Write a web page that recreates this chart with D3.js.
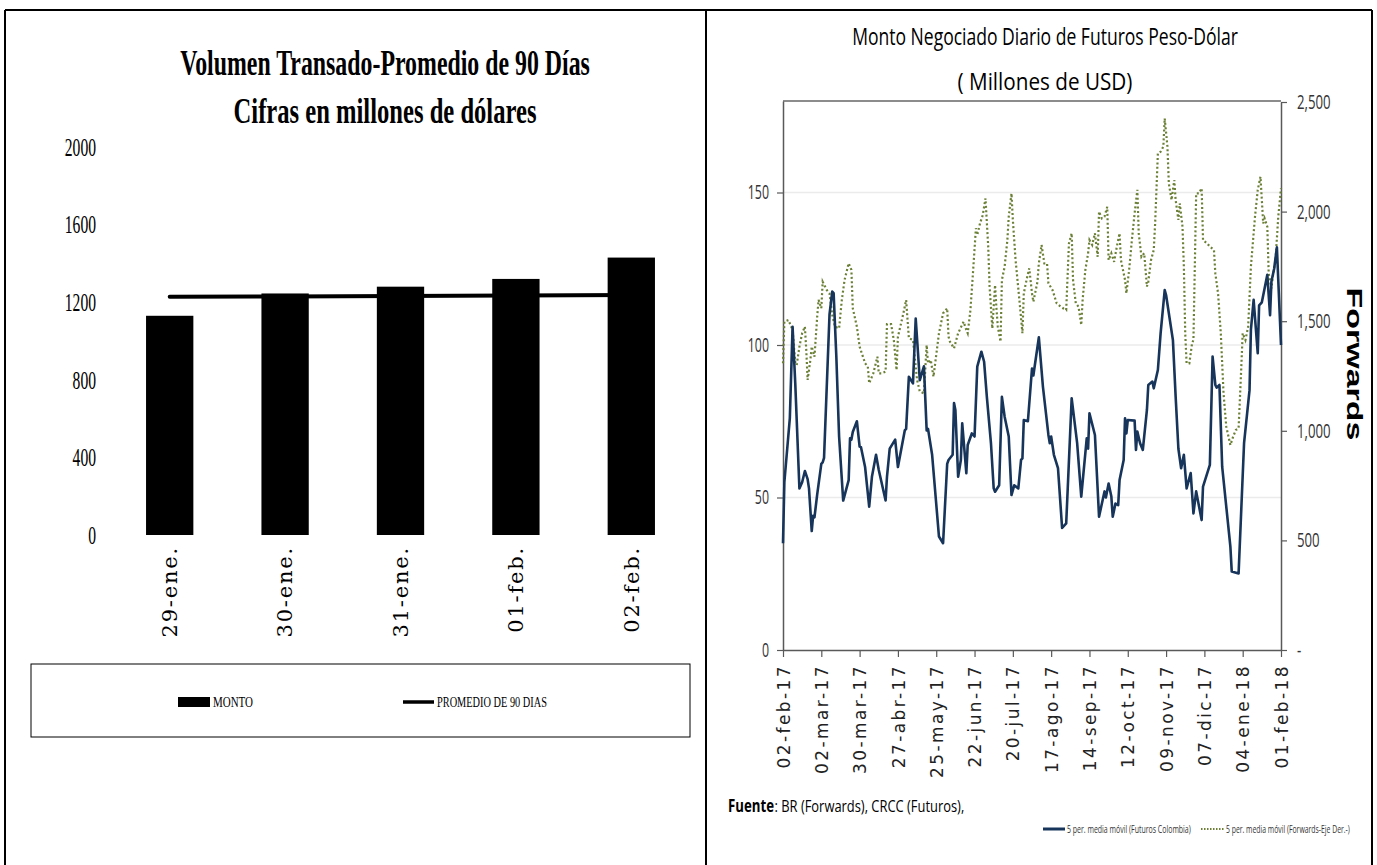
<!DOCTYPE html>
<html><head><meta charset="utf-8">
<script src="https://cdn.jsdelivr.net/npm/d3@7"></script>
<style>body{margin:0;background:#fff}svg{display:block}</style>
</head><body>
<svg id="c" width="1377" height="865"></svg>
<script>
// ---------- Left chart data ----------
const leftCategories = ["29-ene.", "30-ene.", "31-ene.", "01-feb.", "02-feb."];
const montoValues = [1130, 1245, 1280, 1320, 1430];
const promedioValues = [1228, 1230, 1232, 1235, 1237];
const leftYTicks = [0, 400, 800, 1200, 1600, 2000];
const leftTitle = ["Volumen Transado-Promedio de 90 Días", "Cifras en millones de dólares"];
const leftLegend = ["MONTO", "PROMEDIO DE 90 DIAS"];

// ---------- Right chart data ----------
const rightStart = "2017-02-02";
const rightXTickDays = [0, 28, 56, 84, 112, 140, 168, 196, 224, 252, 280, 308, 336, 364];
const rightXTickLabels = ["02-feb-17", "02-mar-17", "30-mar-17", "27-abr-17", "25-may-17", "22-jun-17", "20-jul-17",
  "17-ago-17", "14-sep-17", "12-oct-17", "09-nov-17", "07-dic-17", "04-ene-18", "01-feb-18"];
const futYTicks = [0, 50, 100, 150];
const fwdYTicks = [0, 500, 1000, 1500, 2000, 2500];
const fwdYLabels = ["-", "500", "1,000", "1,500", "2,000", "2,500"];
const rightTitle = ["Monto Negociado Diario de Futuros Peso-Dólar", "( Millones de USD)"];
const rightLegend = ["5 per. media móvil (Futuros Colombia)", "5 per. media móvil (Forwards-Eje Der.-)"];
const sourceLabel = ["Fuente", ": BR (Forwards), CRCC (Futuros),"];

// [day offset from 02-feb-17, value]
const futurosColombia = [[0,35],[1,55],[5,76],[7,106],[9,87],[12,53],[14,55],[16,58.7],[18,56],[19,53],[21,39],[22,44],[23,43.5],[25,51],[28,61],[29,61.5],[30,63],[34,110],[36,117.5],[37,117],[39,96],[41,70],[44,49],[48,55.7],[49,69.4],[50,69],[51,71.5],[54,75],[56,66.7],[57,66.5],[60,60],[63,47],[65,56.8],[68,64],[70,59],[75,49],[76,56.8],[78,66],[82,69],[84,60],[89,72],[90,72.5],[92,89.6],[95,87.4],[97,108.7],[100,88.5],[103,93],[105,72],[106,72.5],[109,64],[114,37.2],[117,35],[120,61],[121,62.3],[124,64],[125,81],[126,78.7],[128,56.8],[130,62.3],[131,74.3],[134,58],[135,67.2],[138,71],[140,70],[142,92.9],[145,97.8],[147,94.5],[149,83],[152,67.8],[154,53],[155,51.9],[158,54],[160,83],[162,76.5],[165,70],[167,50.8],[169,54],[172,53],[174,62.3],[175,62.8],[176,75.4],[179,75],[182,92.3],[183,90],[187,102.5],[190,86.3],[194,70.5],[195,67.8],[196,70],[198,64],[201,59.6],[204,40],[207,41.5],[211,82.5],[215,67.8],[218,50.3],[222,69.4],[223,66],[224,77.6],[228,70.5],[231,43.7],[235,52],[236,50],[238,54.6],[240,50.3],[241,43.7],[243,48],[245,47.5],[246,55.7],[249,62.3],[250,76],[251,71],[252,75.4],[257,75.2],[258,65.6],[259,71.6],[261,67.8],[263,65.6],[266,78.7],[267,86.9],[270,88],[271,85.8],[274,91.8],[276,103.8],[279,118],[280,116.4],[285,101.6],[287,83],[289,66],[291,59.6],[293,64],[295,53],[298,58],[300,44.8],[302,52],[306,42.6],[307,53.6],[312,60.7],[314,96.2],[316,86.9],[317,86],[319,86.9],[321,60.1],[327,33.9],[328,25.7],[333,25.1],[337,67.8],[341,85.2],[342,105],[344,114.8],[347,97.3],[348,113],[350,114],[354,123],[356,109.8],[357,120.8],[359,125],[361,132],[364,100]];

const forwards = [[0,1308],[1,1498],[4,1505],[7,1460],[9,1308],[10,1300],[12,1384],[14,1445],[16,1475],[17,1369],[18,1232],[20,1323],[21,1384],[23,1338],[25,1521],[26,1597],[28,1559],[29,1680],[32,1642],[34,1627],[36,1528],[38,1475],[41,1467],[43,1597],[45,1688],[48,1764],[50,1734],[51,1559],[54,1475],[56,1384],[60,1308],[62,1293],[63,1217],[66,1262],[69,1338],[70,1262],[72,1262],[75,1270],[76,1487],[79,1487],[81,1414],[83,1277],[84,1429],[88,1536],[90,1597],[92,1422],[95,1414],[98,1232],[100,1179],[103,1171],[105,1391],[106,1308],[108,1323],[110,1247],[114,1445],[117,1536],[120,1559],[121,1429],[122,1407],[125,1376],[128,1445],[132,1498],[134,1460],[135,1445],[137,1551],[139,1734],[141,1924],[142,1893],[144,1946],[146,1984],[148,2060],[150,1840],[151,1658],[153,1467],[155,1665],[156,1560],[157,1475],[159,1407],[160,1688],[162,1749],[164,1870],[165,1977],[167,2083],[168,1962],[170,1779],[173,1582],[175,1445],[176,1627],[178,1688],[180,1741],[182,1627],[183,1589],[186,1680],[187,1764],[189,1848],[191,1764],[193,1764],[194,1673],[197,1642],[200,1582],[203,1566],[205,1558],[207,1551],[209,1855],[211,1901],[212,1688],[214,1582],[216,1566],[218,1483],[219,1597],[221,1734],[223,1810],[224,1870],[226,1848],[228,1901],[230,1794],[231,2000],[233,1969],[235,1977],[237,2022],[238,1779],[240,1810],[242,1771],[244,1840],[246,1901],[247,1779],[250,1688],[251,1627],[253,1734],[255,1870],[257,1992],[259,2099],[260,1901],[262,1794],[264,1810],[266,1658],[267,1680],[269,1779],[271,1825],[272,1946],[274,2266],[276,2273],[278,2296],[279,2425],[281,2296],[282,2129],[284,2053],[286,2144],[287,2053],[289,1962],[290,2038],[292,1931],[293,1749],[294,1445],[295,1308],[297,1308],[299,1399],[300,1414],[301,1749],[302,2083],[304,2083],[306,2106],[307,1870],[310,1855],[312,1840],[315,1825],[316,1718],[318,1627],[320,1445],[322,1171],[324,1019],[327,935],[329,973],[331,1004],[333,1011],[335,1293],[336,1445],[338,1414],[340,1475],[342,1749],[345,1977],[347,2099],[349,2159],[351,1946],[352,1969],[354,1931],[355,1718],[357,1650],[358,1703],[360,1779],[362,1977],[364,2106]];

// ---------- helpers ----------
// Place a text at (x,y) [optionally rotated] and scale it horizontally so its width equals w.
function placeFit(sel, x, y, w, rot) {
  sel.attr("x", 0).attr("y", 0);
  sel.each(function () {
    const len = this.getComputedTextLength();
    const s = w / len;
    this.setAttribute("transform", `translate(${x},${y})${rot ? ` rotate(${rot})` : ""} scale(${s},1)`);
  });
}
// Condense axis tick labels horizontally by factor f, keeping their anchor.
function squeezeTicks(sel, f) {
  sel.each(function () {
    const x = +this.getAttribute("x") || 0;
    this.setAttribute("x", x / f);
    this.setAttribute("transform", `scale(${f},1)`);
  });
}

const svg = d3.select("#c");

// panel borders
const border = svg.append("g").attr("stroke", "#000").attr("stroke-width", 2);
border.append("line").attr("x1", 5).attr("x2", 1372).attr("y1", 10).attr("y2", 10);
[5, 706, 1372].forEach(x => border.append("line").attr("x1", x).attr("x2", x).attr("y1", 10).attr("y2", 866));

// ================= LEFT CHART =================
const L = svg.append("g");
const xL = d3.scaleBand().domain(leftCategories).range([112, 689]).paddingInner(0.59).paddingOuter(0.295);
const yL = d3.scaleLinear().domain([0, 2000]).range([535, 147]);

const serif = "'Liberation Serif','Times New Roman',serif";

L.selectAll("text.lt").data(leftTitle).join("text")
  .attr("text-anchor", "middle")
  .attr("font-family", serif).attr("font-weight", "bold").attr("font-size", 36)
  .text(d => d)
  .each(function (d, i) { placeFit(d3.select(this), 385, 75 + i * 48, i === 0 ? 410 : 303); });

const yAxL = L.append("g").attr("transform", "translate(96,0)")
  .call(d3.axisLeft(yL).tickValues(leftYTicks).tickSize(0).tickPadding(0).tickFormat(d3.format("d")));
yAxL.select(".domain").remove();
yAxL.selectAll("text").attr("font-family", serif).attr("font-size", 26).attr("fill", "#000");
squeezeTicks(yAxL.selectAll("text"), 0.6);

L.selectAll("rect.bar").data(montoValues).join("rect")
  .attr("x", (d, i) => xL(leftCategories[i]))
  .attr("width", xL.bandwidth())
  .attr("y", d => yL(d))
  .attr("height", d => yL(0) - yL(d))
  .attr("fill", "#000");

L.append("path")
  .datum(promedioValues)
  .attr("d", d3.line().x((d, i) => xL(leftCategories[i]) + xL.bandwidth() / 2).y(d => yL(d)))
  .attr("fill", "none").attr("stroke", "#000").attr("stroke-width", 4).attr("stroke-linecap", "round");

L.selectAll("text.xl").data(leftCategories).join("text")
  .attr("transform", d => `translate(${xL(d) + xL.bandwidth() / 2},546) rotate(-90)`)
  .attr("text-anchor", "end").attr("dy", "0.35em")
  .attr("font-family", "'DejaVu Serif',serif").attr("font-size", 21).attr("letter-spacing", 1.8)
  .text(d => d);

// legend
L.append("rect").attr("x", 31).attr("y", 664).attr("width", 659).attr("height", 73)
  .attr("fill", "none").attr("stroke", "#000").attr("stroke-width", 1);
L.append("rect").attr("x", 178).attr("y", 697).attr("width", 32).attr("height", 10).attr("fill", "#000");
L.append("line").attr("x1", 403).attr("x2", 434).attr("y1", 702).attr("y2", 702)
  .attr("stroke", "#000").attr("stroke-width", 3.5);
L.selectAll("text.lg").data(leftLegend).join("text")
  .attr("font-family", serif).attr("font-size", 14).text(d => d)
  .each(function (d, i) { placeFit(d3.select(this), i === 0 ? 213 : 437, 707, i === 0 ? 40 : 110); });

// ================= RIGHT CHART =================
const R = svg.append("g");
const t0 = d3.timeParse("%Y-%m-%d")(rightStart);
const dayDate = d => d3.timeDay.offset(t0, d);
const xR = d3.scaleTime().domain([dayDate(0), dayDate(364)]).range([783, 1281]);
const yFut = d3.scaleLinear().domain([0, 180]).range([650, 101]);
const yFwd = d3.scaleLinear().domain([0, 2500]).range([650, 102]);
const sans = "'Open Sans','Noto Sans',sans-serif";
const axisCol = "#595959";

R.selectAll("text.rt").data(rightTitle).join("text")
  .attr("text-anchor", "middle").attr("font-family", sans).attr("font-size", 23).attr("fill", "#000")
  .text(d => d)
  .each(function (d, i) { placeFit(d3.select(this), 1045, 45 + i * 45, i === 0 ? 386 : 175); });

// gridlines
R.append("g").selectAll("line").data(futYTicks.filter(d => d > 0)).join("line")
  .attr("x1", 783).attr("x2", 1281).attr("y1", d => yFut(d)).attr("y2", d => yFut(d))
  .attr("stroke", "#ebebeb").attr("stroke-width", 1.5);

// top frame line
R.append("line").attr("x1", 783).attr("x2", 1281).attr("y1", yFut(180)).attr("y2", yFut(180))
  .attr("stroke", "#666").attr("stroke-width", 1.5);

// left axis
const axFut = R.append("g").attr("transform", "translate(783,0)")
  .call(d3.axisLeft(yFut).tickValues(futYTicks).tickSize(6).tickPadding(8).tickSizeOuter(0));
axFut.select(".domain").attr("stroke", axisCol).attr("stroke-width", 1.5);
axFut.selectAll(".tick line").attr("stroke", axisCol).attr("stroke-width", 1.2);
axFut.selectAll("text").attr("font-family", sans).attr("font-size", 20).attr("fill", "#333");
squeezeTicks(axFut.selectAll("text"), 0.62);

// right axis
const axFwd = R.append("g").attr("transform", "translate(1281,0)")
  .call(d3.axisRight(yFwd).tickValues(fwdYTicks).tickSize(6).tickPadding(10).tickSizeOuter(0)
    .tickFormat((d, i) => fwdYLabels[i]));
axFwd.select(".domain").attr("stroke", axisCol).attr("stroke-width", 1.5);
axFwd.selectAll(".tick line").attr("stroke", axisCol).attr("stroke-width", 1.2);
axFwd.selectAll("text").attr("font-family", sans).attr("font-size", 20).attr("fill", "#333");
squeezeTicks(axFwd.selectAll("text"), 0.66);

// bottom axis
const axX = R.append("g").attr("transform", "translate(0,650)")
  .call(d3.axisBottom(xR).tickValues(rightXTickDays.map(dayDate)).tickSize(7).tickSizeOuter(0)
    .tickFormat((d, i) => rightXTickLabels[i]));
axX.select(".domain").attr("stroke", axisCol).attr("stroke-width", 1.5);
axX.selectAll(".tick line").attr("stroke", axisCol).attr("stroke-width", 1.2);
axX.selectAll("text")
  .attr("transform", "translate(0,14) rotate(-90)")
  .attr("text-anchor", "end").attr("x", 0).attr("y", 0).attr("dy", "0.36em")
  .attr("font-family", "'DejaVu Sans',sans-serif").attr("font-size", 17).attr("letter-spacing", 2.4)
  .attr("fill", "#222");

// lines
R.append("path").datum(forwards)
  .attr("d", d3.line().x(d => xR(dayDate(d[0]))).y(d => yFwd(d[1])))
  .attr("fill", "none").attr("stroke", "#6b8036").attr("stroke-width", 2.2)
  .attr("stroke-dasharray", "2,2.4");
R.append("path").datum(futurosColombia)
  .attr("d", d3.line().x(d => xR(dayDate(d[0]))).y(d => yFut(d[1])))
  .attr("fill", "none").attr("stroke", "#17345a").attr("stroke-width", 2.6).attr("stroke-linejoin", "round");

// Forwards axis title
R.append("text")
  .attr("text-anchor", "middle").attr("font-family", "'Liberation Sans',Arial,sans-serif")
  .attr("font-weight", "bold").attr("font-size", 22).attr("fill", "#000")
  .text("Forwards").call(s => placeFit(s, 1347, 364, 153, 90));

// source
R.append("text")
  .attr("font-family", sans).attr("font-size", 17).attr("font-weight", "bold").attr("fill", "#000")
  .text(sourceLabel[0]).call(s => placeFit(s, 728, 812, 46));
R.append("text")
  .attr("font-family", sans).attr("font-size", 17).attr("fill", "#000")
  .text(sourceLabel[1]).call(s => placeFit(s, 774.5, 812, 190));

// legend
R.append("line").attr("x1", 1043).attr("x2", 1065).attr("y1", 829).attr("y2", 829)
  .attr("stroke", "#17345a").attr("stroke-width", 3);
R.append("line").attr("x1", 1201).attr("x2", 1224).attr("y1", 829).attr("y2", 829)
  .attr("stroke", "#6b8036").attr("stroke-width", 2).attr("stroke-dasharray", "1.5,1.5");
R.selectAll("text.rl").data(rightLegend).join("text")
  .attr("font-family", sans).attr("font-size", 10).attr("fill", "#333").text(d => d)
  .each(function (d, i) { placeFit(d3.select(this), i === 0 ? 1067 : 1226, 832.5, 124); });
</script>
</body></html>
